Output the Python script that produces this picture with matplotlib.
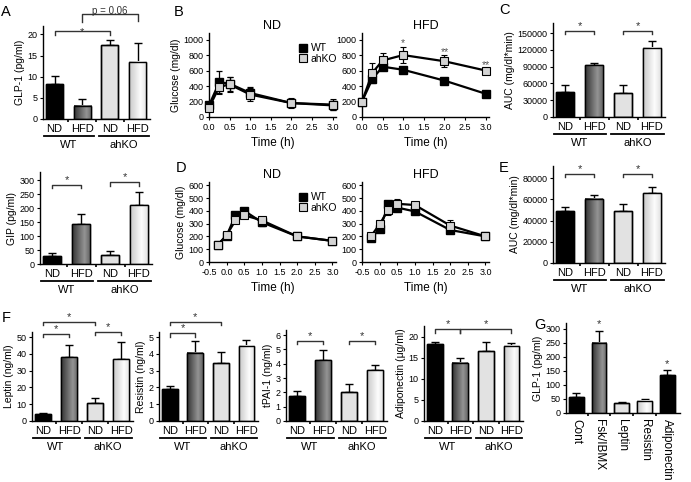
import numpy as np
import matplotlib
matplotlib.use('Agg')
import matplotlib.pyplot as plt
from matplotlib.transforms import ScaledTranslation
from matplotlib.lines import Line2D

plt.rcParams['font.family'] = ['Liberation Sans', 'DejaVu Sans']

W, H = 691, 482

# ---------------- data ----------------
groups = ['WT', 'ahKO']
diets = ['ND', 'HFD', 'ND', 'HFD']

glp1_mean = [8.3, 3.1, 17.5, 13.5]
glp1_err = [1.9, 1.7, 1.1, 4.4]

gip_mean = [28, 142, 31, 211]
gip_err = [10, 39, 17, 47]

t_B = [0, 0.25, 0.5, 1, 2, 3]
B_nd_wt = [150, 450, 430, 310, 180, 150]
B_nd_wt_err = [40, 140, 90, 80, 55, 60]
B_nd_ko = [120, 390, 420, 290, 180, 160]
B_nd_ko_err = [40, 90, 100, 80, 60, 70]
B_hfd_wt = [200, 490, 650, 610, 470, 300]
B_hfd_wt_err = [30, 30, 25, 20, 25, 20]
B_hfd_ko = [200, 570, 730, 800, 720, 600]
B_hfd_ko_err = [30, 130, 100, 100, 80, 30]
B_hfd_stars_t = [1, 2, 3]
B_hfd_stars = ['*', '**', '**']
B_hfd_stars_y = [960, 845, 675]

t_D = [-0.25, 0, 0.25, 0.5, 1, 2, 3]
D_nd_wt = [135, 205, 365, 400, 310, 200, 165]
D_nd_wt_err = [10, 15, 15, 20, 25, 20, 10]
D_nd_ko = [135, 210, 325, 365, 325, 200, 165]
D_nd_ko_err = [10, 15, 20, 25, 20, 15, 10]
D_hfd_wt = [185, 255, 450, 425, 395, 250, 200]
D_hfd_wt_err = [10, 15, 20, 15, 10, 15, 10]
D_hfd_ko = [200, 295, 410, 455, 445, 285, 200]
D_hfd_ko_err = [10, 20, 40, 35, 15, 45, 10]

c_mean = [45000, 92400, 43200, 123600]
c_err = [12600, 4900, 13800, 11400]

e_mean = [48700, 60700, 49000, 65800]
e_err = [4400, 3500, 6600, 6100]

leptin_mean = [4.2, 38.1, 10.5, 36.9]
leptin_err = [0.7, 7.1, 3.0, 10.3]
resistin_mean = [1.9, 4.07, 3.47, 4.48]
resistin_err = [0.18, 0.69, 0.62, 0.34]
tpai_mean = [1.75, 4.25, 2.0, 3.55]
tpai_err = [0.35, 0.7, 0.55, 0.35]
adipo_mean = [18.3, 13.9, 16.7, 17.9]
adipo_err = [0.6, 1.2, 2.0, 0.7]

g_labels = ['Cont', 'Fsk/IBMX', 'Leptin', 'Resistin', 'Adiponectin']
g_mean = [57, 251, 35, 43, 136]
g_err = [15, 43, 5, 6, 18]
g_stars = ['', '*', '', '', '*']

# ---------------- styles ----------------
fig = plt.figure(figsize=(W / 100, H / 100), dpi=100)

base_color = {'black': '#000000', 'dark': '#666666', 'light': '#e2e2e2', 'lightgrad': '#eeeeee'}
_u = np.linspace(0, 1, 80)
grad_profiles = {
    'dark': np.interp(_u, [0, 0.7, 1], [0.2, 0.58, 0.4]),
    'lightgrad': np.interp(_u, [0, 0.65, 1], [0.78, 0.99, 0.88]),
}
styles4 = ['black', 'dark', 'light', 'lightgrad']
stylesG = ['black', 'dark', 'light', 'lightgrad', 'black']


def add_ax(x0, yt, x1, yb):
    ax = fig.add_axes([x0 / W, 1 - yb / H, (x1 - x0) / W, (yb - yt) / H])
    for s in ['top', 'right']:
        ax.spines[s].set_visible(False)
    for s in ['left', 'bottom']:
        ax.spines[s].set_linewidth(1.0)
    ax.tick_params(direction='out', length=2.5, width=0.8, labelsize=6.5, pad=1.5)
    return ax


def tr(ax, dy):
    return ax.get_xaxis_transform() + ScaledTranslation(0, -dy / 100, fig.dpi_scale_trans)


def bar_panel(ax, means, errs, styles, ylim, yticks, ylabel, width=0.62, xlim=(-0.42, 3.45)):
    x = np.arange(len(means))
    bars = ax.bar(x, means, width=width, color=[base_color[s] for s in styles],
                  edgecolor='k', linewidth=1.0, zorder=2)
    for b, s in zip(bars, styles):
        if s in grad_profiles:
            x0 = b.get_x(); w = b.get_width(); h = b.get_height()
            ax.imshow(grad_profiles[s][None, :], cmap='gray', vmin=0, vmax=1,
                      extent=(x0, x0 + w, 0, h), aspect='auto',
                      interpolation='bilinear', zorder=2.5)
    ax.bar(x, means, width=width, fill=False, edgecolor='k', linewidth=1.0, zorder=3)
    ax.errorbar(x, means, yerr=[np.zeros(len(errs)), errs], fmt='none', ecolor='k',
                elinewidth=1.0, capsize=3.2, capthick=1.0, zorder=1.5)
    ax.set_xlim(*xlim)
    ax.set_ylim(*ylim)
    ax.set_yticks(yticks)
    ax.set_xticks([])
    ax.set_xticks(np.arange(len(means) - 1) + 0.5, minor=True)
    ax.tick_params(axis='x', which='minor', length=1.8, width=1.2)
    ax.set_ylabel(ylabel, fontsize=7.5, labelpad=2)
    return x


def group_labels(ax):
    for xi, d in zip(range(4), diets):
        ax.text(xi, 0, d, transform=tr(ax, 10), ha='center', va='center', fontsize=8)
    for (a, b), g in zip([(0, 1), (2, 3)], groups):
        ax.plot([a - 0.4, b + 0.42], [0, 0], transform=tr(ax, 17), color='k', lw=1.3,
                clip_on=False)
        ax.text((a + b) / 2, 0, g, transform=tr(ax, 26), ha='center', va='center',
                fontsize=8)


def bracket(ax, x1, x2, y, yl, yr, text='*', fs=8, tdy=0.0):
    ax.plot([x1, x1, x2, x2], [yl, y, y, yr], color='#333333', lw=1.0, clip_on=False,
            zorder=5)
    if text:
        ax.text((x1 + x2) / 2, y + tdy, text, ha='center', va='bottom', fontsize=fs,
                color='#333333', clip_on=False)


def line_panel(ax, t, wt, wt_err, ko, ko_err, xlim, xticks, ylim, yticks):
    ax.errorbar(t, wt, yerr=wt_err, color='k', lw=1.6, marker='s', ms=5.5, mfc='k',
                mec='k', ecolor='k', elinewidth=0.9, capsize=2.2, capthick=0.9,
                zorder=3, clip_on=False)
    ax.errorbar(t, ko, yerr=ko_err, color='k', lw=1.6, marker='s', ms=5.5,
                mfc='#d4d4d4', mec='k', mew=0.8, ecolor='k', elinewidth=0.9,
                capsize=2.2, capthick=0.9, zorder=4, clip_on=False)
    ax.set_xlim(*xlim)
    ax.set_ylim(*ylim)
    ax.set_xticks(xticks)
    ax.set_xticklabels([f'{v:.1f}' for v in xticks])
    ax.set_yticks(yticks)
    ax.set_xlabel('Time (h)', fontsize=8.5, labelpad=4)


def legend(ax):
    handles = [Line2D([], [], ls='none', marker='s', ms=5.5, mfc='k', mec='k'),
               Line2D([], [], ls='none', marker='s', ms=5.5, mfc='#d4d4d4', mec='k', mew=0.8)]
    ax.legend(handles, groups, loc='upper right', bbox_to_anchor=(1.06, 0.95),
              frameon=False, fontsize=7.5, handlelength=0.8, handletextpad=0.4,
              labelspacing=0.05, borderpad=0.1)


# ---------------- A ----------------
axA1 = add_ax(43, 26, 150, 119)
bar_panel(axA1, glp1_mean, glp1_err, styles4, (0, 22), [0, 5, 10, 15, 20], 'GLP-1 (pg/ml)')
group_labels(axA1)
bracket(axA1, 0, 2, 20.7, 19.8, 19.8, '*', tdy=-1.4)
bracket(axA1, 1, 3, 24.8, 22.9, 23.3, 'p = 0.06', fs=7, tdy=-0.5)

axA2 = add_ax(40, 172, 152, 264)
bar_panel(axA2, gip_mean, gip_err, styles4, (0, 330), [0, 50, 100, 150, 200, 250, 300], 'GIP (pg/ml)')
group_labels(axA2)
bracket(axA2, 0, 1, 282, 271, 271, '*')
bracket(axA2, 2, 3, 293, 279, 279, '*')

# ---------------- B ----------------
axB1 = add_ax(209, 33, 336, 117)
line_panel(axB1, t_B, B_nd_wt, B_nd_wt_err, B_nd_ko, B_nd_ko_err, (0, 3.08),
           [0, 0.5, 1, 1.5, 2, 2.5, 3], (0, 1085), [0, 200, 400, 600, 800, 1000])
axB1.set_ylabel('Glucose (mg/dl)', fontsize=7.5, labelpad=2)
axB1.set_title('ND', fontsize=9, pad=3)
legend(axB1)

axB2 = add_ax(362, 33, 489, 117)
line_panel(axB2, t_B, B_hfd_wt, B_hfd_wt_err, B_hfd_ko, B_hfd_ko_err, (0, 3.08),
           [0, 0.5, 1, 1.5, 2, 2.5, 3], (0, 1085), [0, 200, 400, 600, 800, 1000])
axB2.set_title('HFD', fontsize=9, pad=3)
for tt, s, yy in zip(B_hfd_stars_t, B_hfd_stars, B_hfd_stars_y):
    axB2.text(tt, yy, s, ha='center', va='center', fontsize=7.5, color='#555555')

# ---------------- C ----------------
axC = add_ax(553, 23, 665, 117)
bar_panel(axC, c_mean, c_err, styles4, (0, 168000),
          [0, 30000, 60000, 90000, 120000, 150000], 'AUC (mg/dl*min)')
group_labels(axC)
bracket(axC, 0, 1, 154000, 148000, 148000, '*')
bracket(axC, 2, 3, 154000, 148000, 148000, '*')

# ---------------- D ----------------
axD1 = add_ax(209, 182, 336, 262)
line_panel(axD1, t_D, D_nd_wt, D_nd_wt_err, D_nd_ko, D_nd_ko_err, (-0.5, 3.1),
           [-0.5, 0, 0.5, 1, 1.5, 2, 2.5, 3], (0, 625), [0, 100, 200, 300, 400, 500, 600])
axD1.set_ylabel('Glucose (mg/dl)', fontsize=7.5, labelpad=2)
axD1.set_title('ND', fontsize=9, pad=3)
legend(axD1)

axD2 = add_ax(362, 182, 489, 262)
line_panel(axD2, t_D, D_hfd_wt, D_hfd_wt_err, D_hfd_ko, D_hfd_ko_err, (-0.5, 3.1),
           [-0.5, 0, 0.5, 1, 1.5, 2, 2.5, 3], (0, 625), [0, 100, 200, 300, 400, 500, 600])
axD2.set_title('HFD', fontsize=9, pad=3)

# ---------------- E ----------------
axE = add_ax(553, 166, 665, 263)
bar_panel(axE, e_mean, e_err, styles4, (0, 91300), [0, 20000, 40000, 60000, 80000],
          'AUC (mg/dl*min)')
group_labels(axE)
bracket(axE, 0, 1, 83800, 81000, 81000, '*')
bracket(axE, 2, 3, 83800, 81000, 81000, '*')

# ---------------- F ----------------
axF1 = add_ax(32, 332, 133, 421)
bar_panel(axF1, leptin_mean, leptin_err, styles4, (0, 53), [0, 10, 20, 30, 40, 50],
          'Leptin (ng/ml)')
group_labels(axF1)
bracket(axF1, 0, 1, 51.8, 50, 50, '*')
bracket(axF1, 2, 3, 53.2, 51.2, 51.2, '*')
bracket(axF1, 0, 2, 58.9, 57.1, 57.1, '*')

axF2 = add_ax(159, 332, 258, 421)
bar_panel(axF2, resistin_mean, resistin_err, styles4, (0, 5.3), [0, 1, 2, 3, 4, 5],
          'Resistin (ng/ml)')
group_labels(axF2)
bracket(axF2, 0, 1, 5.22, 5.02, 5.02, '*')
bracket(axF2, 0, 2, 5.87, 5.7, 5.7, '*')

axF3 = add_ax(286, 330, 387, 421)
bar_panel(axF3, tpai_mean, tpai_err, styles4, (0, 6.35), [0, 1, 2, 3, 4, 5, 6],
          'tPAI-1 (ng/ml)')
group_labels(axF3)
bracket(axF3, 0, 1, 5.58, 5.39, 5.39, '*')
bracket(axF3, 2, 3, 5.58, 5.39, 5.39, '*')

axF4 = add_ax(424, 326, 523, 421)
bar_panel(axF4, adipo_mean, adipo_err, styles4, (0, 22.6), [0, 5, 10, 15, 20],
          'Adiponectin (\u03bcg/ml)')
group_labels(axF4)
bracket(axF4, 0, 1, 21.9, 20.95, 20.95, '*')
bracket(axF4, 1, 3, 21.9, 20.95, 20.95, '*')

# ---------------- G ----------------
axG = add_ax(566, 323, 680, 413)
xg = bar_panel(axG, g_mean, g_err, stylesG, (0, 321), [0, 50, 100, 150, 200, 250, 300],
               'GLP-1 (pg/ml)', width=0.65, xlim=(-0.45, 4.55))
axG.set_xticks(xg)
axG.set_xticklabels(g_labels, rotation=-90, fontsize=8.5, va='top', ha='center')
axG.tick_params(axis='x', which='major', length=0, pad=4)
for xi, m, e, s in zip(xg, g_mean, g_err, g_stars):
    if s:
        axG.text(xi, m + e + 4, s, ha='center', va='bottom', fontsize=8, color='#333333')

# ---------------- panel letters ----------------
for lab, px, py in [('A', 6, 12), ('B', 179, 12), ('C', 504, 10), ('D', 181, 168),
                    ('E', 504, 168), ('F', 6, 318), ('G', 540, 325)]:
    fig.text(px / W, 1 - py / H, lab, fontsize=10.5, ha='center', va='center')

fig.savefig('out.png', dpi=100)
